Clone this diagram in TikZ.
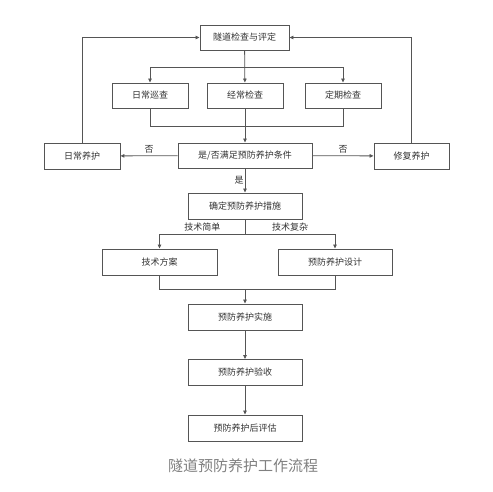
\documentclass[tikz,border=0pt]{standalone}
\usepackage{fontspec}
\newfontfamily\cjk{Noto Sans CJK SC}
\usepackage{tikz}
\usetikzlibrary{positioning, arrows.meta}
\definecolor{linegray}{HTML}{555555}
\definecolor{textgray}{HTML}{333333}
\definecolor{capgray}{HTML}{808080}
\tikzset{
    stepbox/.style={draw=linegray, line width=0.9pt, minimum height=25pt, text=textgray,
        font=\cjk\fontsize{9}{9}\selectfont, inner sep=1pt},
    arr/.style={draw=linegray, line width=0.8pt, -{Triangle[length=4pt,width=3.5pt]}},
    ln/.style={draw=linegray, line width=0.8pt},
    lbl/.style={font=\cjk\fontsize{9}{9}\selectfont, text=textgray, fill=white, inner sep=1pt}
}
\begin{document}
\begin{tikzpicture}[x=1pt,y=-1pt]
        \useasboundingbox (0,0) rectangle (493,491);
        % boxes
        \node[stepbox, minimum width=89pt] (jcpd) at (244.5,37.5) {隧道检查与评定};
        \foreach \name/\x/\descr in {rcxc/150/日常巡查, jcjc/245/经常检查, dqjc/343/定期检查}
        \node[stepbox, minimum width=76pt] (\name) at (\x,95.5) {\descr};
        \node[stepbox, minimum width=134pt] (tj) at (245,155.5) {是/否满足预防养护条件};
        \node[stepbox, minimum width=76pt, minimum height=26pt] (rcyh) at (82,156) {日常养护};
        \node[stepbox, minimum width=75pt, minimum height=26pt] (xfyh) at (411.5,156) {修复养护};
        \node[stepbox, minimum width=114pt, minimum height=26pt] (qdcs) at (245,206) {确定预防养护措施};
        \node[stepbox, minimum width=115pt, minimum height=26pt] (jsfa) at (159.5,262) {技术方案};
        \node[stepbox, minimum width=114pt, minimum height=26pt] (yhsj) at (335,262) {预防养护设计};
        \foreach \name/\y/\descr in {yhss/317/预防养护实施, yhys/372.5/预防养护验收, yhpg/428/预防养护后评估}
        \node[stepbox, minimum width=114pt, minimum height=26pt] (\name) at (245,\y) {\descr};
        % caption
        \node[font=\cjk\fontsize{15}{15}\selectfont, text=capgray] (cap) at (243,466) {隧道预防养护工作流程};
        % split and join points
        \coordinate (fen1) at (245,67);
        \coordinate (he1) at (245,126);
        \coordinate (fen2) at (245,234);
        \coordinate (he2) at (245,289);
        % inspection branches
        \draw[arr] (jcpd) -- (jcjc);
        \draw[arr] (fen1) -| (rcxc);
        \draw[arr] (fen1) -| (dqjc);
        \draw[ln] (rcxc) |- (he1);
        \draw[ln] (dqjc) |- (he1);
        \draw[arr] (jcjc) -- (tj);
        % decision
        \draw[arr] (tj) -- (rcyh) node[lbl, midway, above=1pt] {否};
        \draw[arr] (tj) -- (xfyh) node[lbl, midway, above=1pt] {否};
        \draw[arr] (rcyh) |- (jcpd);
        \draw[arr] (xfyh) |- (jcpd);
        \draw[arr] (tj) -- (qdcs) node[lbl, midway, left=0pt] {是};
        % measures
        \draw[ln] (qdcs) -- (fen2);
        \draw[arr] (fen2) -| (jsfa) node[lbl, pos=0.25, above=1pt] {技术简单};
        \draw[arr] (fen2) -| (yhsj) node[lbl, pos=0.25, above=1pt] {技术复杂};
        \draw[ln] (jsfa) |- (he2);
        \draw[ln] (yhsj) |- (he2);
        \draw[arr] (he2) -- (yhss);
        \draw[arr] (yhss) -- (yhys);
        \draw[arr] (yhys) -- (yhpg);
    \end{tikzpicture}
\end{document}
